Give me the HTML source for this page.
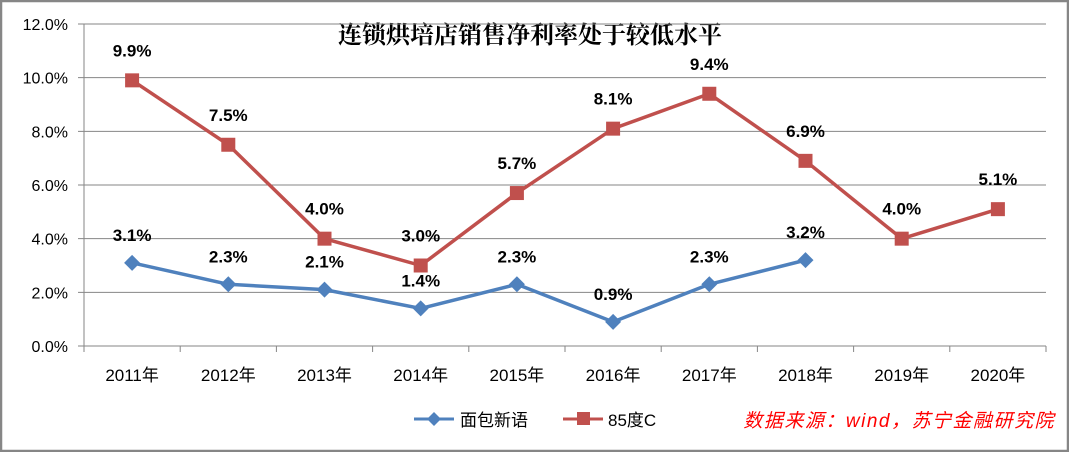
<!DOCTYPE html>
<html><head><meta charset="utf-8"><style>
body{margin:0;background:#fff;}
svg text{font-family:"Liberation Sans","Noto Sans CJK SC",sans-serif;}
</style></head><body>
<svg id="chart" width="1069" height="452" xmlns="http://www.w3.org/2000/svg">
<rect x="1" y="1" width="1067" height="450" fill="#fff" stroke="#868686" stroke-width="2.5"/>
<text x="530" y="43" text-anchor="middle" font-size="24" font-weight="bold" style="font-family:'Noto Serif CJK SC','Liberation Serif',serif" fill="#000">连锁烘培店销售净利率处于较低水平</text>
<g id="grid"></g><g id="axes"></g><g id="series"></g>
<g>
<line x1="414" y1="419" x2="454" y2="419" stroke="#4F81BD" stroke-width="3"/>
<path d="M434 412 L441 419 L434 426 L427 419Z" fill="#4F81BD"/>
<text x="460" y="426" font-size="17">面包新语</text>
<line x1="563" y1="419" x2="603" y2="419" stroke="#C0504D" stroke-width="3"/>
<rect x="577" y="412" width="13" height="13" fill="#C0504D"/>
<text x="608" y="426" font-size="17">85度C</text>
</g>
<text x="1055" y="427" text-anchor="end" font-size="19" font-style="italic" letter-spacing="1.5" fill="#FF0000">数据来源：wind，苏宁金融研究院</text>
</svg>
<script>
const categories=["2011年","2012年","2013年","2014年","2015年","2016年","2017年","2018年","2019年","2020年"];
const seriesA=[3.1,2.3,2.1,1.4,2.3,0.9,2.3,3.2,null,null];
const seriesB=[9.9,7.5,4.0,3.0,5.7,8.1,9.4,6.9,4.0,5.1];
const yTicks=[0,2,4,6,8,10,12];
const NS="http://www.w3.org/2000/svg";
const L=84,R=1046,T=24,B=346,yMax=12;
const x=i=>L+(i+0.5)*(R-L)/categories.length;
const y=v=>B-v/yMax*(B-T);
function mk(p,t,a){const e=document.createElementNS(NS,t);for(const k in a)e.setAttribute(k,a[k]);p.appendChild(e);return e;}
const grid=document.getElementById('grid'),axes=document.getElementById('axes'),ser=document.getElementById('series');
yTicks.forEach(v=>{
 const g=mk(grid,'line',{x1:L-6,x2:R,y1:y(v),y2:y(v),stroke:'#868686','stroke-width':1});
 
 
 const t=mk(axes,'text',{x:68,y:y(v)+6,'text-anchor':'end','font-size':16});
 
 
 t.textContent=v.toFixed(1)+'%';
});
mk(axes,'line',{x1:L,x2:L,y1:T,y2:B,stroke:'#868686'});
for(let i=0;i<=categories.length;i++){const xx=L+i*(R-L)/categories.length;mk(axes,'line',{x1:xx,x2:xx,y1:B,y2:B+6,stroke:'#868686'});}
categories.forEach((c,i)=>{
 const t=mk(axes,'text',{x:x(i),y:381,'text-anchor':'middle','font-size':17});
 
 
 t.textContent=c;
});
function draw(data,color,marker,name,off){
 const pts=data.map((v,i)=>v==null?null:[x(i),y(v)]).filter(p=>p);
 const pl=mk(ser,'polyline',{points:pts.map(p=>p.join(',')).join(' '),fill:'none',stroke:color,'stroke-width':3.5,'stroke-linejoin':'round'});
 
 
 data.forEach((v,i)=>{
  if(v==null)return;
  const cx=x(i),cy=y(v);let m;
  if(marker==='sq')m=mk(ser,'rect',{x:cx-7,y:cy-7,width:14,height:14,fill:color});
  else m=mk(ser,'path',{d:`M${cx} ${cy-8}L${cx+8} ${cy}L${cx} ${cy+8}L${cx-8} ${cy}Z`,fill:color});
  
  
  const t=mk(ser,'text',{x:cx,y:cy-off,'text-anchor':'middle','font-size':17,'font-weight':'bold'});
  
  
  t.textContent=v.toFixed(1)+'%';
 });
}
draw(seriesA,'#4F81BD','dia','mianbaoxinyu',22);
draw(seriesB,'#C0504D','sq','85c',24);
</script>
</body></html>
